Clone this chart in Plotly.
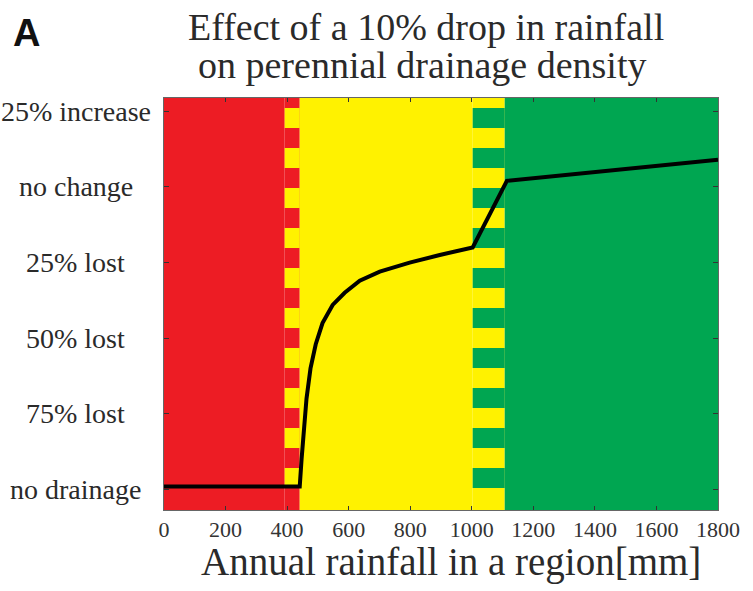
import plotly.graph_objects as go

# ---- data ----
rain_mm = [0, 441, 447, 454, 463, 476, 493, 515, 548, 587, 636, 701, 798, 896, 1003, 1114, 1800]
density_change = [-99, -99, -90, -80, -70, -60, -52, -45, -39, -35, -31, -28, -25, -22.5, -20, 2, 9]

y_tick_vals = [25, 0, -25, -50, -75, -100]
y_tick_text = ["25% increase", "no change", "25% lost", "50% lost", "75% lost", "no drainage"]
x_tick_vals = [0, 200, 400, 600, 800, 1000, 1200, 1400, 1600, 1800]

# zone boundaries (mm): red | red/yellow transition | yellow | yellow/green transition | green
zone_edges = [0, 392, 441, 1003, 1107, 1800]

RED = "#ED1C24"
YEL = "#FFF200"
GRN = "#00A651"

fig = go.Figure()

shapes = []
def rect(x0, x1, y0, y1, color):
    shapes.append(dict(type="rect", xref="x", yref="y domain", x0=x0, x1=x1, y0=y0, y1=y1,
                       fillcolor=color, line=dict(width=0), layer="below"))

# solid zones
rect(zone_edges[0], zone_edges[1], 0, 1, RED)
rect(zone_edges[1], zone_edges[2], 0, 1, RED)
rect(zone_edges[2], zone_edges[3], 0, 1, YEL)
rect(zone_edges[3], zone_edges[4], 0, 1, YEL)
rect(zone_edges[4], zone_edges[5], 0, 1, GRN)
# checker blocks in transition columns
H = 412.0
for k in range(10):
    top = 1 - (10 + 40 * k) / H
    bot = 1 - (30 + 40 * k) / H
    rect(zone_edges[1], zone_edges[2], bot, top, YEL)
    rect(zone_edges[3], zone_edges[4], bot, top, GRN)

fig.add_trace(go.Scatter(x=rain_mm, y=density_change, mode="lines",
                         line=dict(color="black", width=4), showlegend=False,
                         hoverinfo="skip"))

serif = "Liberation Serif, Times New Roman, serif"
ann = []
for v, t in zip(y_tick_vals, y_tick_text):
    ann.append(dict(text=t, xref="paper", yref="y", x=-0.159, y=v, xanchor="center",
                    yanchor="middle", showarrow=False, font=dict(family=serif, size=28, color="#2a2a2a")))
ann.append(dict(text="Effect of a 10% drop in rainfall", xref="paper", yref="paper",
                x=(426 - 164) / 554, y=(510 - 27) / 412, xanchor="center", yanchor="middle",
                showarrow=False, font=dict(family=serif, size=38, color="#2a2a2a")))
ann.append(dict(text="on perennial drainage density", xref="paper", yref="paper",
                x=(422 - 164) / 554, y=(510 - 65) / 412, xanchor="center", yanchor="middle",
                showarrow=False, font=dict(family=serif, size=38, color="#2a2a2a")))
ann.append(dict(text="Annual rainfall in a region[mm]", xref="paper", yref="paper",
                x=(451 - 164) / 554, y=(510 - 562) / 412, xanchor="center", yanchor="middle",
                showarrow=False, font=dict(family=serif, size=39, color="#2a2a2a")))
ann.append(dict(text="<b>A</b>", xref="paper", yref="paper",
                x=(26 - 164) / 554, y=(510 - 33) / 412, xanchor="center", yanchor="middle",
                showarrow=False, font=dict(family="Liberation Sans, Arial, sans-serif", size=38, color="#111")))

fig.update_layout(
    width=753, height=591,
    margin=dict(l=164, r=35, t=98, b=81),
    paper_bgcolor="white", plot_bgcolor="white",
    shapes=shapes, annotations=ann,
    xaxis=dict(range=[0, 1800], tickvals=x_tick_vals, ticks="inside", ticklen=4,
               tickcolor="#333", showline=True, linecolor="#666", linewidth=1, mirror="ticks",
               showgrid=False, zeroline=False,
               tickfont=dict(family=serif, size=22, color="#333")),
    yaxis=dict(range=[-106.8, 29.4], tickvals=y_tick_vals, showticklabels=False,
               ticks="inside", ticklen=5, tickcolor="#333", showline=True, linecolor="#666",
               linewidth=1, mirror="ticks", showgrid=False, zeroline=False),
)

fig.write_html("out.html")
